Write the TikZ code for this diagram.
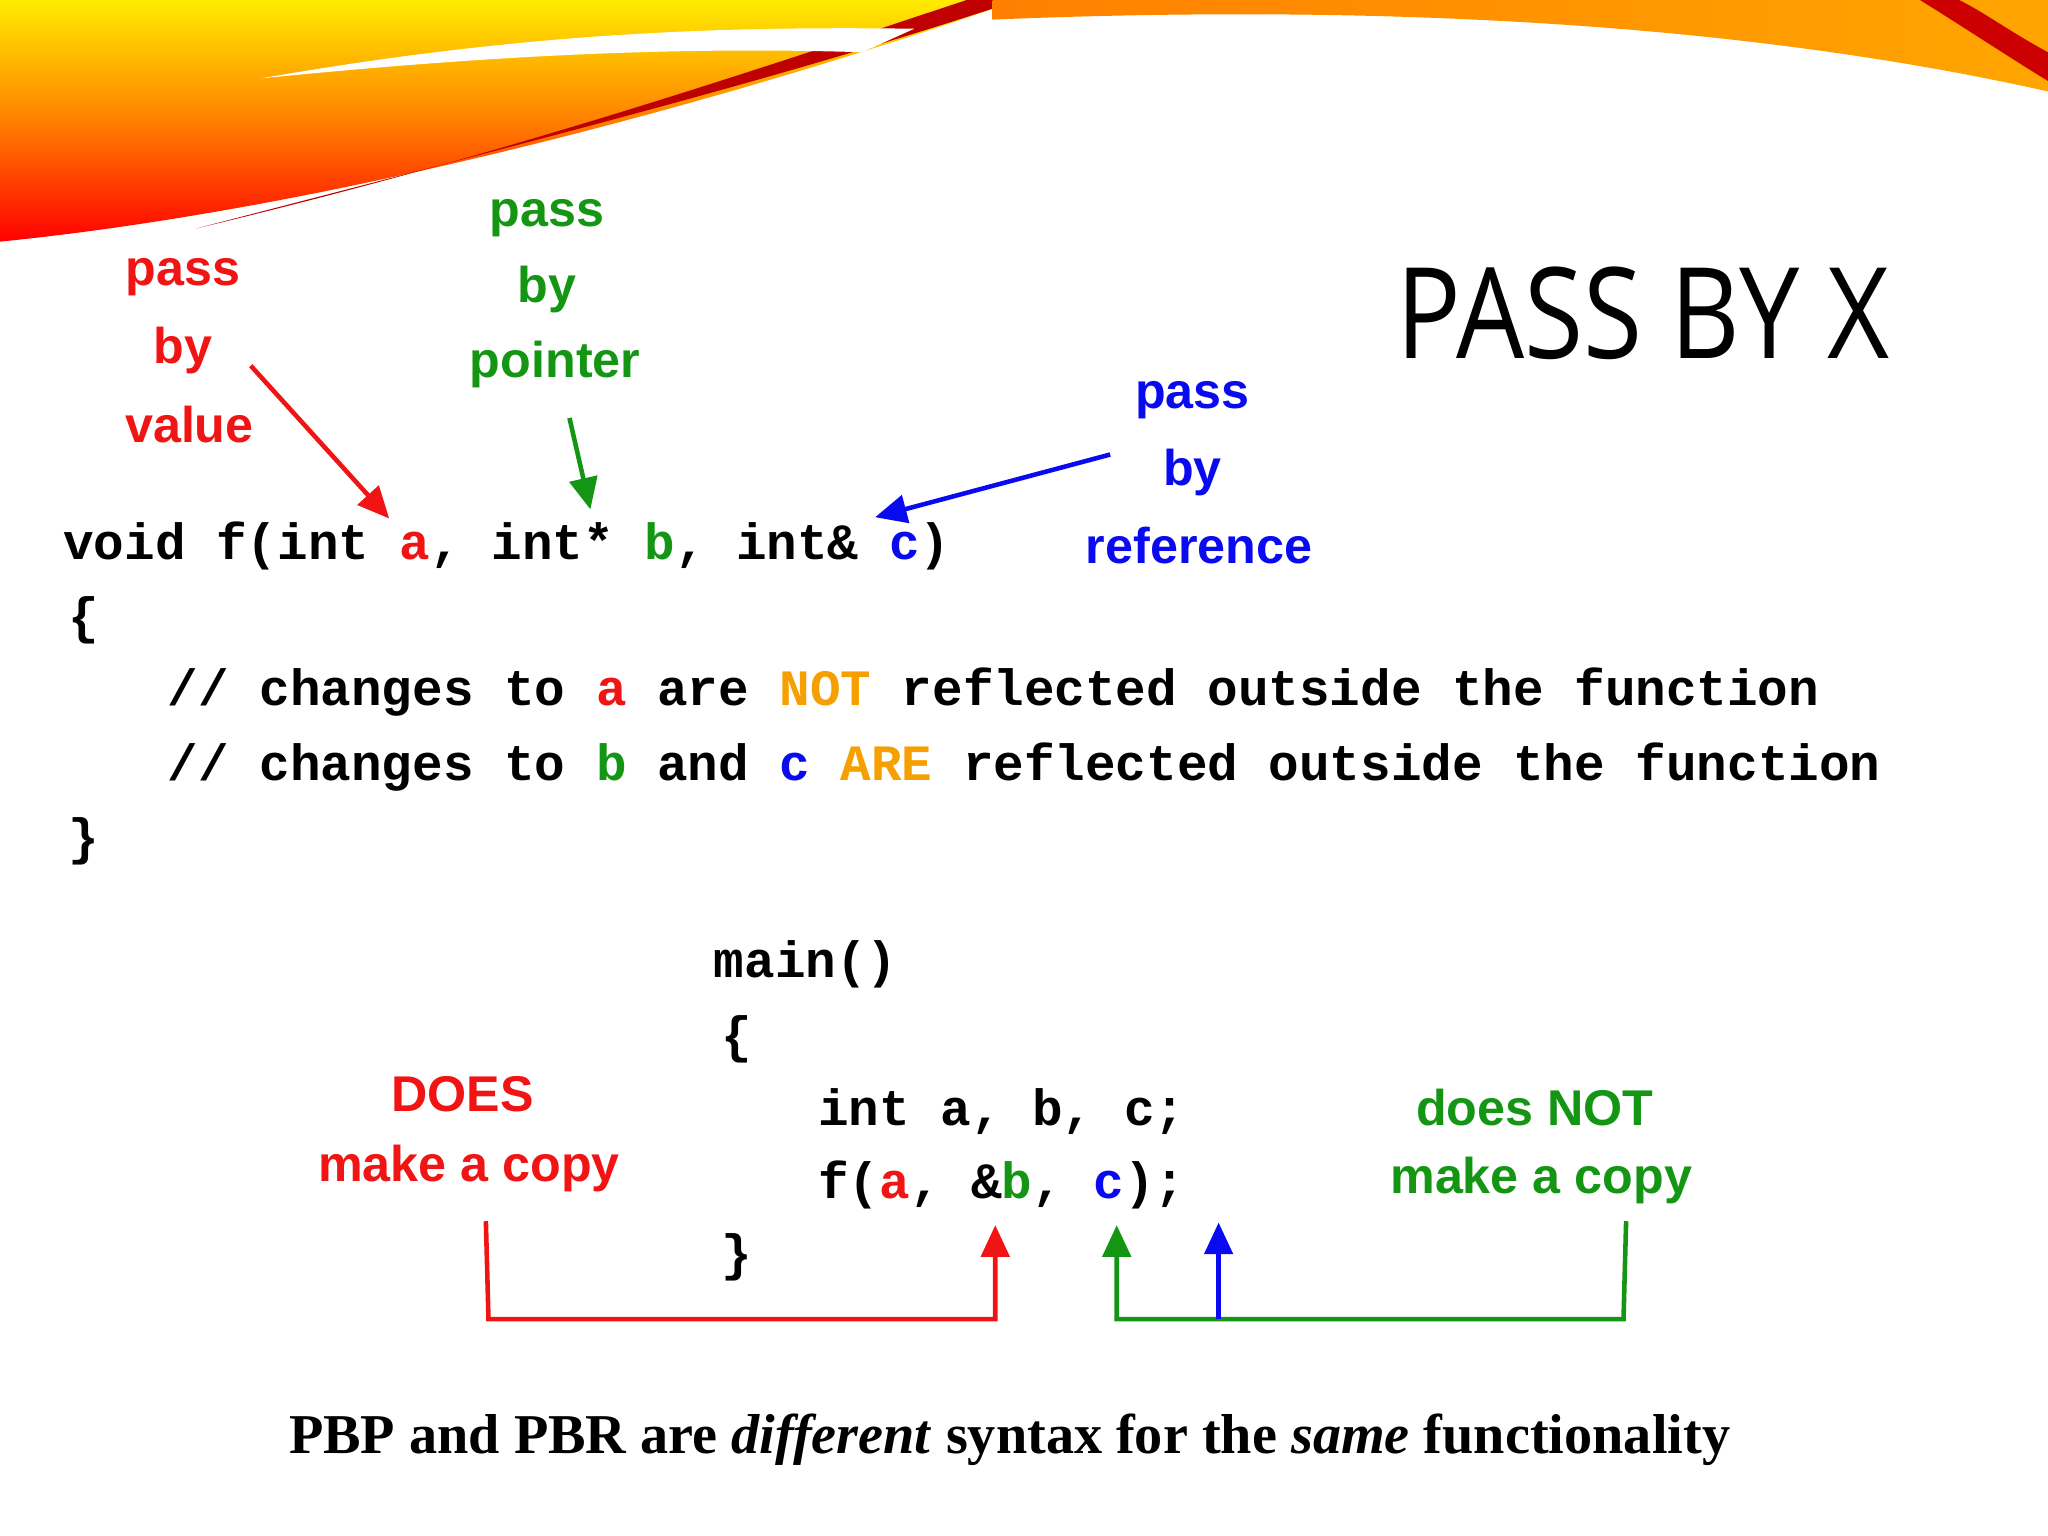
\documentclass[tikz,border=0pt]{standalone}
\usepackage{fontspec}
\setmainfont{Liberation Serif}
\setmonofont{Liberation Mono}
\setsansfont{Liberation Sans}
\newfontfamily\titlefont{Open Sans}
\usetikzlibrary{arrows.meta}
\definecolor{cr}{RGB}{240,20,20}
\definecolor{cg}{RGB}{20,150,20}
\definecolor{cb}{RGB}{10,10,240}
\definecolor{co}{RGB}{245,160,0}
\tikzset{
 lbl/.style={font=\sffamily\bfseries\fontsize{14.3}{16}\selectfont, inner sep=0pt},
 code/.style={font=\ttfamily\bfseries\fontsize{14.5}{16}\selectfont, inner sep=0pt, anchor=west},
 arr/.style={line width=1.3pt, -{Triangle[length=9pt,width=8pt]}},
 brk/.style={line width=1.3pt}
}
\begin{document}
\begin{tikzpicture}[x=0.01306cm,y=-0.01306cm]
\useasboundingbox (0,0) rectangle (1568,1176);
% swoosh
\shade[top color=yellow!85!orange, bottom color=red, middle color=orange] (0,0) -- (0,185) .. controls (250,160) and (550,80) .. (780,0) -- cycle;
\fill[red!75!black] (150,175) .. controls (400,110) and (600,60) .. (780,0) -- (740,0) .. controls (560,60) and (380,120) .. (150,175) -- cycle;
\fill[white] (200,60) .. controls (400,25) and (550,20) .. (700,22) -- (660,40) .. controls (500,35) and (350,45) .. (200,60) -- cycle;
\shade[left color=orange, right color=orange!70!yellow] (760,0) -- (760,15) .. controls (1000,5) and (1300,10) .. (1568,70) -- (1568,0) -- cycle;
\fill[red!80!black] (1470,0) .. controls (1510,25) and (1540,45) .. (1568,62) -- (1568,40) .. controls (1540,25) and (1520,10) .. (1500,0) -- cycle;
% title
\node[inner sep=0pt, font=\titlefont\fontsize{36}{40}\selectfont, xscale=0.85] (title) at (1258,240) {PASS BY X};
% labels
\node[lbl, text=cr] (pv1) at (140,212) {pass};
\node[lbl, text=cr] (pv2) at (140,268) {by};
\node[lbl, text=cr] (pv3) at (145,325) {value};
\node[lbl, text=cg] (pp1) at (419,167) {pass};
\node[lbl, text=cg] (pp2) at (419,222) {by};
\node[lbl, text=cg] (pp3) at (425,279) {pointer};
\node[lbl, text=cb] (pr1) at (913,306) {pass};
\node[lbl, text=cb] (pr2) at (913,362) {by};
\node[lbl, text=cb] (pr3) at (918,418) {reference};
% code
\node[code] (l1) at (48,418) {void f(int \textcolor{cr}{a}, int* \textcolor{cg}{b}, int\& \textcolor{cb}{c})};
\node[code] (l2) at (52,475) {\{};
\node[code] (l3) at (128,530) {// changes to \textcolor{cr}{a} are \textcolor{co}{NOT} reflected outside the function};
\node[code] (l4) at (128,587) {// changes to \textcolor{cg}{b} and \textcolor{cb}{c} \textcolor{co}{ARE} reflected outside the function};
\node[code] (l5) at (52,644) {\}};
\node[code] (m1) at (546,738) {main()};
\node[code] (m2) at (552,796) {\{};
\node[code] (m3) at (626,851) {int a, b, c;};
\node[code] (m4) at (626,907) {f(\textcolor{cr}{a}, \&\textcolor{cg}{b}, \textcolor{cb}{c});};
\node[code] (m5) at (552,963) {\}};
\node[lbl, text=cr] (d1) at (354,838) {DOES};
\node[lbl, text=cr] (d2) at (359,895) {make a copy};
\node[lbl, text=cg] (n1) at (1175,848) {does NOT};
\node[lbl, text=cg] (n2) at (1180,904) {make a copy};
% arrows
\coordinate (ra) at (192,280); \coordinate (rb) at (298,397);
\coordinate (ga) at (436,320); \coordinate (gb) at (452,390);
\coordinate (ba) at (850,348); \coordinate (bb) at (670,396);
\draw[arr, cr] (ra) -- (rb);
\draw[arr, cg] (ga) -- (gb);
\draw[arr, cb] (ba) -- (bb);
% brackets
\coordinate (r1) at (372,935); \coordinate (r2) at (374,1010); \coordinate (r3) at (762,1010); \coordinate (r4) at (762,938);
\draw[arr, cr] (r1) -- (r2) -- (r3) -- (r4);
\coordinate (g1) at (1245,935); \coordinate (g2) at (1243,1010); \coordinate (g3) at (855,1010); \coordinate (g4) at (855,938);
\draw[arr, cg] (g1) -- (g2) -- (g3) -- (g4);
\coordinate (b1) at (933,1010); \coordinate (b2) at (933,936);
\draw[arr, cb] (b1) -- (b2);
% bottom
\node[inner sep=0pt, font=\bfseries\fontsize{16}{18}\selectfont] (bot) at (773,1102) {PBP and PBR are \textit{different} syntax for the \textit{same} functionality};
\end{tikzpicture}
\end{document}
